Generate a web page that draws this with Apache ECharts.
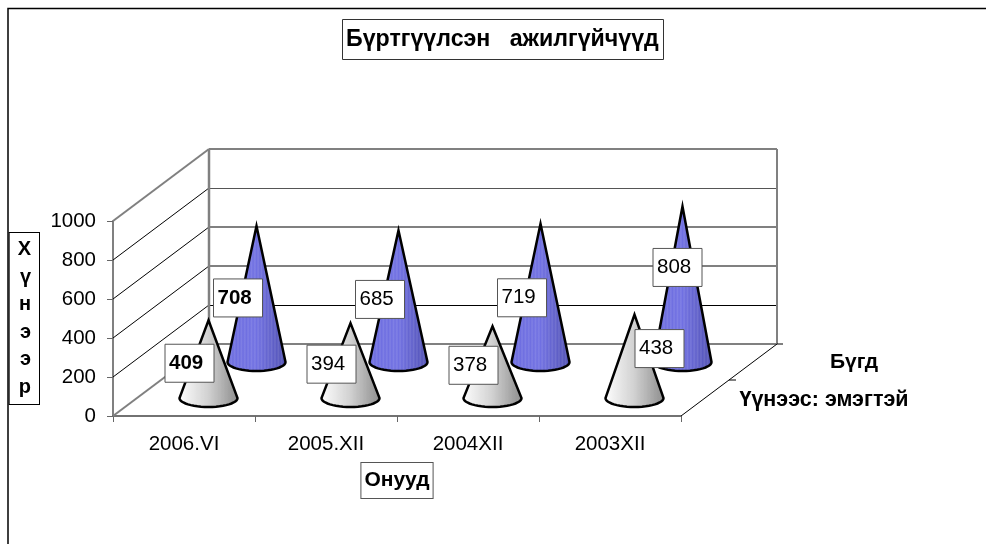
<!DOCTYPE html>
<html>
<head>
<meta charset="utf-8">
<style>html,body{margin:0;padding:0;background:#fff}#main{width:986px;height:544px}</style>
<script src="https://cdn.jsdelivr.net/npm/echarts@6/dist/echarts.min.js"></script>
</head>
<body>
<div id="main"></div>
<script>
// data
const categories = ['2006.VI', '2005.XII', '2004XII', '2003XII'];
const totalValues = [708, 685, 719, 808];
const femaleValues = [409, 394, 378, 438];
const yTicks = [0, 200, 400, 600, 800, 1000];
const seriesNames = ['Бүгд', 'Үүнээс: эмэгтэй'];

// depth of the fake 3d floor in px
const DEPTH_X = 96, DEPTH_Y = -72;
const FONT = '"Liberation Sans", Arial, sans-serif';

// label box centre, relative to the cone tip
const totalLabelOff = [[-18.5, 74], [-18.5, 71], [-18.5, 76], [-5, 63]];
const femaleLabelOff = [[-19, 45], [-19, 43], [-19, 41], [25, 36]];

function stripes(left, mid, right, light) {
  let stops = [];
  let n = 36;
  for (let i = 0; i <= n; i++) {
    let t = i / n;
    let c = t < 0.5 ? echarts.color.lerp(t * 2, [left, mid]) : echarts.color.lerp((t - 0.5) * 2, [mid, right]);
    if (i % 2) c = echarts.color.lift(c, light);
    stops.push({offset: t, color: c});
  }
  return new echarts.graphic.LinearGradient(0, 0, 1, 0, stops);
}
const blueFill = stripes('#6c6ce0', '#7070e2', '#4e4eb0', 0.12);
const grayFill = stripes('#ffffff', '#d0d0d0', '#8a8a8a', 0.03);

function wallItem(params, api) {
  let band = api.size([1, 0])[0];
  let x0 = api.coord([0, 0])[0] - band / 2;
  let x1 = x0 + band * categories.length;
  let y = v => api.coord([0, v])[1];
  let kids = [];
  function line(a, b, c, d, color, w) {
    kids.push({type: 'line', shape: {x1: a, y1: b, x2: c, y2: d}, style: {stroke: color, lineWidth: w}});
  }
  // back wall and side wall grid lines
  yTicks.forEach(function (v) {
    let gray = v === 0 || v === 1000;
    let by = y(v) + DEPTH_Y;
    line(x0, y(v), x0 + DEPTH_X, by, gray ? '#808080' : '#000', gray ? 2 : 1);
    // snap the thin ones so they stay crisp
    if (v === 200) line(x0 + DEPTH_X, Math.round(by) + 0.5, x1 + DEPTH_X, Math.round(by) + 0.5, '#000', 1);
    else if (v === 800) line(x0 + DEPTH_X, Math.round(by) + 0.5, x1 + DEPTH_X, Math.round(by) + 0.5, '#555', 1);
    else line(x0 + DEPTH_X, by, x1 + DEPTH_X, by, '#808080', 2);
  });
  line(x0 + DEPTH_X, y(0) + DEPTH_Y, x0 + DEPTH_X, y(1000) + DEPTH_Y, '#808080', 2.5);
  line(x1 + DEPTH_X, y(0) + DEPTH_Y, x1 + DEPTH_X, y(1000) + DEPTH_Y, '#808080', 2);
  // right floor edge with its ticks
  line(x1, y(0), x1 + DEPTH_X, y(0) + DEPTH_Y, '#000', 1);
  line(x1 + DEPTH_X, y(0) + DEPTH_Y, x1 + DEPTH_X + 6, y(0) + DEPTH_Y, '#000', 1);
  line(x1 + DEPTH_X / 2, y(0) + DEPTH_Y / 2, x1 + DEPTH_X / 2 + 7, y(0) + DEPTH_Y / 2, '#000', 1);
  return {type: 'group', children: kids};
}

function coneRender(depth, fill, offs) {
  return function (params, api) {
    let i = api.value(0);
    let dx = DEPTH_X * depth, dy = DEPTH_Y * depth;
    let base = api.coord([i, 0]);
    let top = api.coord([i, api.value(1)]);
    let cx = base[0] + dx + 0.5, by = base[1] + dy, ty = top[1] + dy;
    let rx = 29, ry = 9;
    // the miter of the stroke sticks out above the tip, so start a bit lower
    let pts = [[cx, ty + 2]];
    for (let k = 0; k <= 24; k++) {
      let t = Math.PI * k / 24;
      pts.push([cx + rx * Math.cos(t), by + ry * Math.sin(t)]);
    }
    let bw = 49, bh = 38;
    let lx = cx + offs[i][0] - bw / 2, ly = ty + offs[i][1] - bh / 2;
    let bold = i === 0;
    return {
      type: 'group',
      children: [
        {type: 'polygon', shape: {points: pts}, style: {fill: fill, stroke: '#000', lineWidth: 2.5}},
        {type: 'rect', z2: 100, shape: {x: lx, y: ly, width: bw, height: bh},
          style: {fill: '#fff', stroke: '#555', lineWidth: 1}},
        {type: 'text', z2: 101, x: lx + 4, y: ly + bh / 2,
          style: {text: String(api.value(1)), fill: '#000', align: 'left', verticalAlign: 'middle',
            font: (bold ? 'bold ' : '') + '20.5px ' + FONT}}
      ]
    };
  };
}

var myChart = echarts.init(document.getElementById('main'), null, {renderer: 'canvas'});
let option = {
  animation: false,
  backgroundColor: '#fff',
  title: {
    text: 'Бүртгүүлсэн   ажилгүйчүүд',
    left: 342, top: 19,
    padding: [9, 5, 9, 4],
    backgroundColor: '#fff',
    borderColor: '#333',
    borderWidth: 1,
    textStyle: {fontFamily: FONT, fontSize: 23.2, fontWeight: 'bold', color: '#000'}
  },
  grid: {left: 113, right: 305, top: 221, bottom: 128, containLabel: false, outerBoundsMode: 'none'},
  xAxis: {
    type: 'category',
    data: categories,
    name: 'Онууд',
    nameLocation: 'middle',
    nameGap: 47,
    nameTextStyle: {
      fontFamily: FONT, fontSize: 21, fontWeight: 'bold', color: '#000',
      backgroundColor: '#fff', borderColor: '#555', borderWidth: 1, padding: [7, 3, 7, 3]
    },
    axisLine: {lineStyle: {color: '#444', width: 1.5}},
    axisTick: {show: true, alignWithLabel: false, length: 6, lineStyle: {color: '#666'}},
    axisLabel: {fontFamily: FONT, fontSize: 20.5, color: '#000', margin: 18},
    splitLine: {show: false}
  },
  yAxis: {
    type: 'value',
    min: 0,
    max: 1000,
    interval: 200,
    name: 'Х\nү\nн\nэ\nэ\nр',
    nameLocation: 'middle',
    nameRotate: 0,
    nameGap: 74,
    nameTextStyle: {
      fontFamily: FONT, fontSize: 20, fontWeight: 'bold', color: '#000', lineHeight: 27.5,
      backgroundColor: '#fff', borderColor: '#000', borderWidth: 1, padding: [3, 8, 3, 8]
    },
    axisLine: {show: true, lineStyle: {color: '#808080', width: 2}},
    axisTick: {show: true, length: 6, lineStyle: {color: '#666'}},
    axisLabel: {fontFamily: FONT, fontSize: 20.5, color: '#000', margin: 17, padding: [5, 0, 0, 0], formatter: v => String(v)},
    splitLine: {show: false}
  },
  graphic: [
    {type: 'polyline', silent: true, shape: {points: [[8, 544], [8, 8.5], [986, 8.5]]},
      style: {fill: null, stroke: '#000', lineWidth: 1.5}},
    {type: 'text', silent: true, x: 854, y: 362,
      style: {text: seriesNames[0], font: 'bold 21px ' + FONT, fill: '#000', align: 'center', verticalAlign: 'middle'}},
    {type: 'text', silent: true, x: 824, y: 400,
      style: {text: seriesNames[1], font: 'bold 21.5px ' + FONT, fill: '#000', align: 'center', verticalAlign: 'middle'}}
  ],
  series: [
    {type: 'custom', name: 'walls', silent: true, clip: false, data: [[0, 0]], renderItem: wallItem},
    {type: 'custom', name: seriesNames[0], silent: true, clip: false,
      data: totalValues.map((v, i) => [i, v]), renderItem: coneRender(0.75, blueFill, totalLabelOff)},
    {type: 'custom', name: seriesNames[1], silent: true, clip: false,
      data: femaleValues.map((v, i) => [i, v]), renderItem: coneRender(0.25, grayFill, femaleLabelOff)}
  ]
};
myChart.setOption(option);
</script>
</body>
</html>
